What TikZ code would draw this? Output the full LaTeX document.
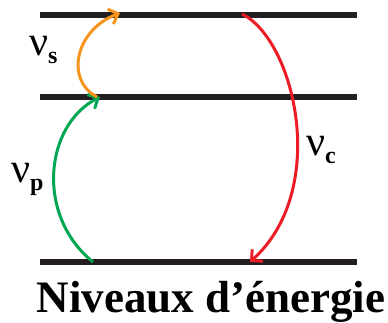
\documentclass[tikz,border=0pt]{standalone}
\usepackage{fontspec}
\setmainfont{Liberation Serif}
\usetikzlibrary{arrows.meta}
\definecolor{lvl}{RGB}{35,31,32}
\definecolor{cgreen}{RGB}{0,166,81}
\definecolor{corange}{RGB}{247,148,29}
\definecolor{cred}{RGB}{237,28,36}
\newcommand{\nulab}[1]{{\fontsize{42}{42}\selectfont ν}\raisebox{-8pt}{\fontsize{24}{24}\selectfont\bfseries #1}}
\begin{document}
\begin{tikzpicture}[x=1pt,y=1pt,
  level/.style={line width=6pt,lvl},
  trans/.style={line width=3pt,-{Straight Barb[length=8pt,width=16pt,line width=3pt]}},
  lab/.style={inner sep=0pt,anchor=base west}]
\useasboundingbox (0,0) rectangle (388,322);
% levels
\coordinate (t1) at (40,307); \coordinate (t2) at (357,307);
\coordinate (m1) at (40,225); \coordinate (m2) at (357,225);
\coordinate (b1) at (40,60);  \coordinate (b2) at (357,60);
\draw[level] (t1) -- (t2);
\draw[level] (m1) -- (m2);
\draw[level] (b1) -- (b2);
% transitions
\coordinate (gs) at (93,60);   \coordinate (ge) at (100,225);
\coordinate (os) at (97,225);  \coordinate (oe) at (120,309);
\coordinate (rs) at (242,308); \coordinate (re) at (250,60);
\draw[trans,cgreen] (gs) .. controls (35,107) and (45,197) .. (ge);
\draw[trans,corange] (os) .. controls (65,242) and (75,292) .. (oe);
\draw[trans,cred] (rs) .. controls (295,282) and (330,132) .. (re);
% labels
\node[lab] (ns) at (29,266) {\nulab{s}};
\node[lab] (np) at (11,140) {\nulab{p}};
\node[lab] (nc) at (306,167) {\nulab{c}};
\node[inner sep=0pt,anchor=base] (title) at (211,10) {\fontsize{45}{45}\selectfont\bfseries Niveaux d’énergie};
\end{tikzpicture}
\end{document}
